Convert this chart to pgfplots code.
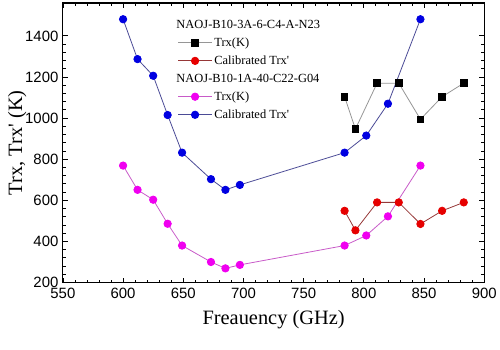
\documentclass[border=0pt]{standalone}
\usepackage{fontspec}
\setmainfont{Liberation Serif}[Ligatures=TeXOff]
\newfontfamily\ticksans{Liberation Sans}
\usepackage{pgfplots}
\pgfplotsset{compat=1.18}
\definecolor{bmark}{RGB}{0,0,225}
\definecolor{bline}{RGB}{75,75,150}
\definecolor{mmark}{RGB}{240,0,240}
\definecolor{mline}{RGB}{200,90,200}
\definecolor{rmark}{RGB}{230,0,0}
\definecolor{rline}{RGB}{150,55,55}
\definecolor{kline}{RGB}{150,150,150}
\begin{document}
\begin{tikzpicture}
\begin{axis}[
  name=ax,
  scale only axis,
  width=422bp, height=280bp,
  xmin=550, xmax=900, ymin=200, ymax=1560,
  xtick={550,600,...,900},
  ytick={200,400,...,1400},
  minor x tick num=4,
  minor y tick num=4,
  tick align=inside,
  major tick length=5bp,
  minor tick length=3bp,
  axis line style={line width=1.1pt},
  every tick/.style={line width=0.8pt, black},
  /pgf/number format/assume math mode=true,
  /pgf/number format/set thousands separator={},
  ticklabel style={font=\ticksans\fontsize{15}{16}\selectfont},
  xticklabel style={yshift=-2bp},
  yticklabel style={xshift=-1bp},
  xlabel={Freauency (GHz)},
  ylabel={Trx, Trx' (K)},
  label style={font=\fontsize{20.5}{22}\selectfont},
  xlabel style={yshift=-5bp},
  ylabel style={yshift=-8bp},
  legend cell align=left,
  legend style={draw=none, fill=none, at={(0.272,0.947)}, anchor=north west,
    font=\fontsize{12.5}{14}\selectfont, row sep=4bp, inner sep=0pt},
  legend image code/.code={%
    \draw[mark repeat=2,mark phase=2] plot coordinates {(0bp,0bp)(17bp,0bp)(34bp,0bp)};},
]
\addlegendimage{empty legend}
\addlegendentry{\hspace*{-38bp}NAOJ-B10-3A-6-C4-A-N23}
\addplot[kline, line width=0.8pt, mark=square*, mark size=3.3bp, mark options={black, fill=black}]
  coordinates {(784,1104)(793,947)(811,1170)(829,1170)(847,994)(865,1104)(883,1170)};
\addlegendentry{Trx(K)}
\addplot[rline, line width=0.8pt, mark=*, mark size=3.7bp, mark options={rmark, fill=rmark}]
  coordinates {(784,549)(793,454)(811,590)(829,590)(847,485)(865,549)(883,590)};
\addlegendentry{Calibrated Trx'}
\addlegendimage{empty legend}
\addlegendentry{\hspace*{-38bp}NAOJ-B10-1A-40-C22-G04}
\addplot[mline, line width=0.8pt, mark=*, mark size=3.7bp, mark options={mmark, fill=mmark}]
  coordinates {(600,769)(612,651)(625,603)(637,486)(649,380)(673,300)(685,269)(697,286)(784,380)(802,429)(820,522)(847,769)};
\addlegendentry{Trx(K)}
\addplot[bline, line width=0.8pt, mark=*, mark size=3.7bp, mark options={bmark, fill=bmark}]
  coordinates {(600,1481)(612,1287)(625,1206)(637,1015)(649,832)(673,703)(685,651)(697,675)(784,832)(802,915)(820,1070)(847,1481)};
\addlegendentry{Calibrated Trx'}
\end{axis}
\path ([shift={(-63bp,-67bp)}]ax.south west) rectangle ([shift={(15bp,3bp)}]ax.north east);
\end{tikzpicture}
\end{document}
